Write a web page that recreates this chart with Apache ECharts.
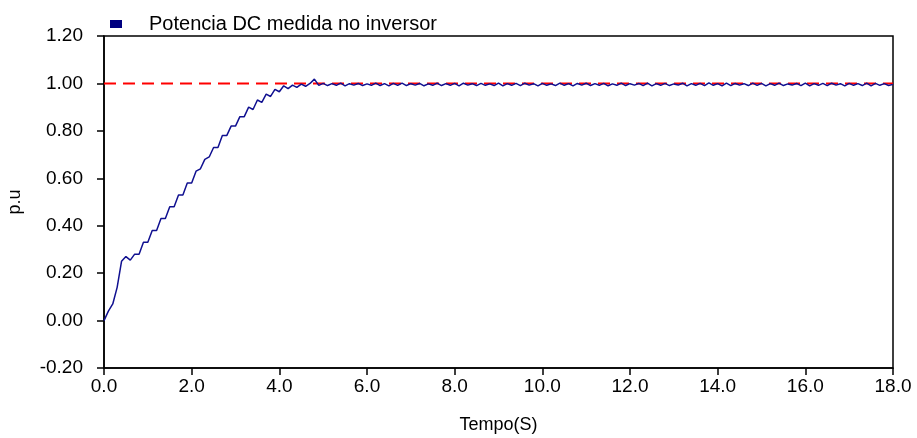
<!DOCTYPE html>
<html>
<head>
<meta charset="utf-8">
<script src="https://cdn.jsdelivr.net/npm/echarts@6/dist/echarts.min.js"></script>
<style>html,body{margin:0;padding:0;background:#fff;}#c{width:917px;height:438px;}</style>
</head>
<body>
<div id="c"></div>
<script>
// sample step of the measured signal (s)
var sampleStep = 0.1;
// ramp part, t = 0.0 .. 4.9
var rampValues = [0.00,0.04,0.07,0.14,0.25,0.27,0.255,0.28,0.28,0.33,
  0.33,0.38,0.38,0.43,0.43,0.48,0.48,0.53,0.53,0.58,
  0.58,0.63,0.64,0.68,0.69,0.73,0.73,0.78,0.78,0.82,
  0.82,0.86,0.86,0.90,0.89,0.93,0.92,0.955,0.945,0.975,
  0.965,0.99,0.978,0.993,0.983,0.997,0.988,1.000,1.018,0.992];
// steady part, t = 5.0 .. 18.0
var steadyValues = [1.000,0.991,0.999,0.992,1.001,0.990,0.999,0.993,1.000,0.991,
  0.998,0.992,1.001,0.991,0.999,0.990,1.000,0.992,1.001,0.991,
  0.999,0.993,1.000,0.990,0.998,0.992,1.001,0.991,0.999,0.992,
  1.000,0.990,1.001,0.993,0.999,0.991,1.000,0.992,0.998,0.991,
  1.001,0.990,0.999,0.992,1.000,0.991,1.001,0.993,0.999,0.990,
  1.000,0.992,0.998,0.991,1.001,0.992,0.999,0.990,1.000,0.993,
  1.001,0.991,0.999,0.992,1.000,0.990,0.998,0.992,1.001,0.991,
  0.999,0.993,1.000,0.991,1.001,0.990,0.999,0.992,1.000,0.991,
  0.998,0.993,1.001,0.990,0.999,0.992,1.000,0.991,1.002,0.992,
  0.999,0.990,1.001,0.991,1.000,0.993,0.999,0.991,1.001,0.992,
  1.000,0.990,0.999,0.992,1.001,0.991,0.998,0.993,1.000,0.991,
  1.001,0.990,0.999,0.992,1.000,0.991,1.001,0.993,0.999,0.990,
  1.000,0.992,0.999,0.991,1.001,0.990,1.000,0.992,0.999,0.991,0.996];
var referenceLevel = 1.0;
var xMin = 0, xMax = 18, xInterval = 2;
var yMin = -0.2, yMax = 1.2, yInterval = 0.2;
var seriesName = 'Potencia DC medida no inversor';
var xName = 'Tempo(S)', yName = 'p.u';

var allValues = rampValues.concat(steadyValues);
var measured = allValues.map(function (v, i) { return [+(i * sampleStep).toFixed(2), v]; });
var refLine = [[xMin, referenceLevel], [xMax, referenceLevel]];

var chart = echarts.init(document.getElementById('c'), null, {renderer: 'canvas'});
var font = 'Liberation Sans, Arial, sans-serif';
chart.setOption({
  animation: false,
  backgroundColor: '#ffffff',
  grid: {left: 104, right: 24, top: 36, bottom: 70, containLabel: false, outerBoundsMode: 'none',
    show: true, borderColor: '#000', borderWidth: 1.5, backgroundColor: 'transparent'},
  legend: {
    data: [{name: seriesName, icon: 'rect'}],
    left: 105, top: 9,
    itemWidth: 12, itemHeight: 8,
    textStyle: {fontFamily: font, fontSize: 20, color: '#000', padding: [0, 0, 0, 22]}
  },
  xAxis: {
    type: 'value', min: xMin, max: xMax, interval: xInterval,
    name: xName, nameLocation: 'middle', nameGap: 48,
    nameTextStyle: {fontFamily: font, fontSize: 18, color: '#000'},
    axisLine: {onZero: false, lineStyle: {color: '#000', width: 1.5}},
    axisTick: {show: true, length: 7, lineStyle: {color: '#000', width: 1.5}},
    axisLabel: {fontFamily: font, fontSize: 19, color: '#000', margin: 9, formatter: function (v) { return v.toFixed(1); }},
    splitLine: {show: false}
  },
  yAxis: {
    type: 'value', min: yMin, max: yMax, interval: yInterval,
    name: yName, nameLocation: 'middle', nameGap: 80, nameRotate: 90,
    nameTextStyle: {fontFamily: font, fontSize: 18, color: '#000'},
    axisLine: {onZero: false, lineStyle: {color: '#000', width: 1.5}},
    axisTick: {show: true, length: 7, lineStyle: {color: '#000', width: 1.5}},
    axisLabel: {fontFamily: font, fontSize: 19, color: '#000', margin: 21, formatter: function (v) { return v.toFixed(2); }},
    splitLine: {show: false}
  },
  series: [
    {
      name: 'ref', type: 'line', data: refLine, symbol: 'none', silent: true,
      lineStyle: {color: '#ff0000', width: 2, type: [12, 7]}, z: 2
    },
    {
      name: seriesName, type: 'line', data: measured, symbol: 'none',
      itemStyle: {color: '#000080'},
      lineStyle: {color: '#101090', width: 1.5}, z: 3
    }
  ]
});
</script>
</body>
</html>
